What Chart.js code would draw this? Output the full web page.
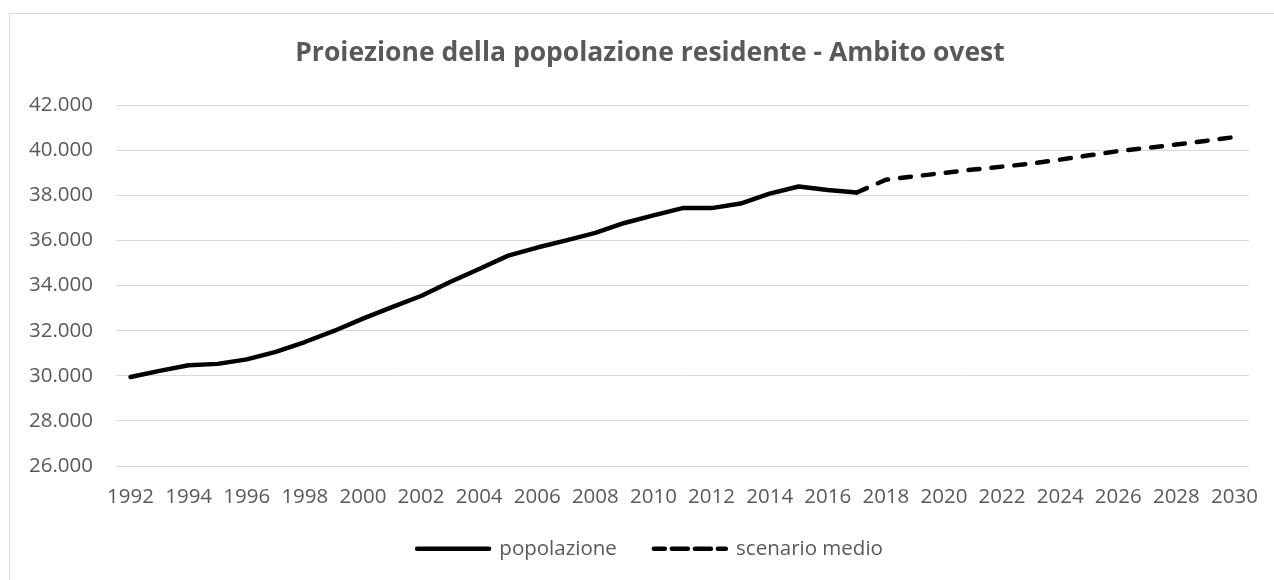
<!DOCTYPE html>
<html>
<head>
<meta charset="utf-8">
<script src="https://cdn.jsdelivr.net/npm/chart.js@4"></script>
<style>
  html, body { margin: 0; padding: 0; background: #ffffff; overflow: hidden; }
  #frame { position: absolute; left: 9px; top: 13px; width: 1300px; height: 620px; border: 1px solid #d9d9d9; box-sizing: border-box; }
  #wrap { position: absolute; left: 0; top: 0; width: 1274px; height: 580px; }
</style>
</head>
<body>
<div id="frame"></div>
<div id="wrap"><canvas id="c" width="1274" height="580"></canvas></div>
<script>
// Data
const years = [1992,1993,1994,1995,1996,1997,1998,1999,2000,2001,2002,2003,2004,2005,2006,2007,2008,2009,2010,2011,
               2012,2013,2014,2015,2016,2017,2018,2019,2020,2021,2022,2023,2024,2025,2026,2027,2028,2029,2030];
const popolazione = [29950,30220,30470,30530,30730,31060,31500,31990,32540,33050,33540,34160,34740,35330,35690,36010,36340,36780,37120,37440,
                     37440,37640,38080,38400,38240,38130,null,null,null,null,null,null,null,null,null,null,null,null,null];
const scenarioMedio = [null,null,null,null,null,null,null,null,null,null,null,null,null,null,null,null,null,null,null,null,
                       null,null,null,null,null,38130,38700,38850,39000,39150,39280,39410,39590,39780,39970,40110,40260,40420,40590];
const yTicks = { min: 26000, max: 42000, step: 2000 };
const titleText = 'Proiezione della popolazione residente - Ambito ovest';
const seriesNames = ['popolazione', 'scenario medio'];

const gray = '#595959';
const fontFamily = '"Open Sans", "Noto Sans", "Liberation Sans", sans-serif';

const fmtIt = v => String(Math.round(v)).replace(/\B(?=(\d{3})+(?!\d))/g, '.');

const PAD_LEFT = 26;

new Chart(document.getElementById('c'), {
  type: 'line',
  data: {
    labels: years.map(String),
    datasets: [
      {
        label: seriesNames[0],
        data: popolazione,
        borderColor: '#000000',
        backgroundColor: '#000000',
        borderWidth: 4.5,
        borderCapStyle: 'round',
        borderJoinStyle: 'round',
        pointRadius: 0,
        tension: 0,
        spanGaps: false
      },
      {
        label: seriesNames[1],
        data: scenarioMedio,
        borderColor: '#000000',
        backgroundColor: '#000000',
        borderWidth: 4.5,
        borderDash: [11, 12],
        borderCapStyle: 'round',
        borderJoinStyle: 'round',
        pointRadius: 0,
        tension: 0,
        spanGaps: false
      }
    ]
  },
  options: {
    responsive: false,
    animation: false,
    devicePixelRatio: 1,
    events: [],
    layout: { padding: { left: PAD_LEFT, right: 0, top: 0, bottom: 11 } },
    plugins: {
      tooltip: { enabled: false },
      title: {
        display: true,
        text: titleText,
        color: gray,
        font: { family: fontFamily, size: 26.5, weight: 'bold', lineHeight: 1.2 },
        padding: { top: 38, bottom: 35.5 }
      },
      legend: {
        display: true,
        position: 'bottom',
        labels: {
          color: gray,
          font: { family: fontFamily, size: 20.5 },
          boxWidth: 72,
          boxHeight: 0,
          padding: 37
        }
      }
    },
    scales: {
      x: {
        offset: true,
        grid: { display: false, drawTicks: false },
        border: { display: false },
        ticks: {
          color: gray,
          font: { family: fontFamily, size: 20.5, lineHeight: 0.45 },
          mirror: true,
          padding: -35.5,
          autoSkip: false,
          maxRotation: 0,
          minRotation: 0,
          callback: function(value, index) { return index % 2 === 0 ? this.getLabelForValue(value) : ''; }
        },
        afterFit: s => { s.height = 35.5; s.paddingLeft = 0; s.paddingRight = 25; }
      },
      y: {
        min: yTicks.min,
        max: yTicks.max,
        grid: { color: '#d9d9d9', lineWidth: 1, drawTicks: false },
        border: { display: false },
        ticks: {
          stepSize: yTicks.step,
          color: gray,
          font: { family: fontFamily, size: 20.5 },
          padding: 23,
          callback: v => fmtIt(v)
        },
        afterFit: s => { s.width = 116 - PAD_LEFT; }
      }
    }
  }
});
</script>
</body>
</html>
